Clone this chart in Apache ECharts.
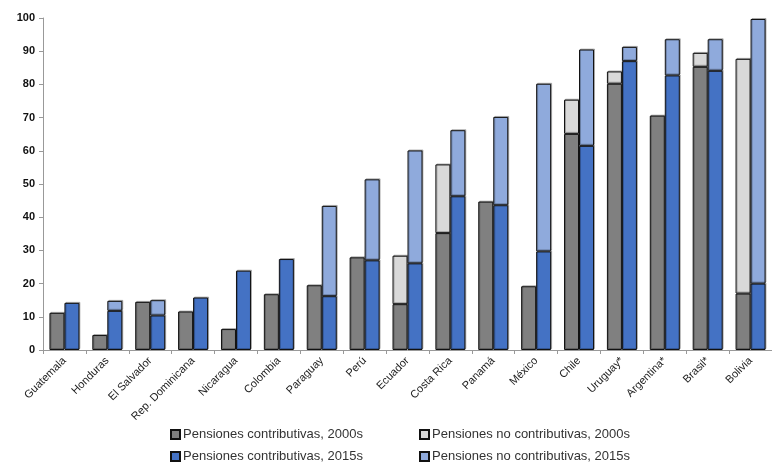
<!DOCTYPE html>
<html>
<head>
<meta charset="utf-8">
<script src="https://cdn.jsdelivr.net/npm/echarts@6/dist/echarts.min.js"></script>
<style>html,body{margin:0;padding:0;background:#fff}#c{width:772px;height:462px}</style>
</head>
<body>
<div id="c"></div>
<script>
const categories = ["Guatemala","Honduras","El Salvador","Rep. Dominicana","Nicaragua","Colombia","Paraguay","Perú","Ecuador","Costa Rica","Panamá","México","Chile","Uruguay*","Argentina*","Brasil*","Bolivia"];
const contrib2000s   = [11.2, 4.5, 14.5, 11.6, 6.3, 16.8, 19.5, 27.9, 13.8, 35.2, 44.7, 19.2, 65.1, 80.2, 70.6, 85.3, 17.0];
const noContrib2000s = ['-', '-', '-', '-', '-', '-', '-', '-', 14.6, 20.7, '-', '-', 10.3, 3.7, '-', 4.2, 70.7];
const contrib2015s   = [14.2, 11.8, 10.4, 15.8, 23.9, 27.4, 16.2, 27.0, 26.1, 46.3, 43.6, 29.7, 61.5, 87.0, 82.7, 84.1, 20.0];
const noContrib2015s = ['-', 3.0, 4.6, '-', '-', '-', 27.2, 24.4, 34.0, 19.9, 26.6, 50.5, 29.0, 4.3, 10.9, 9.5, 79.7];
const yTicks = [0,10,20,30,40,50,60,70,80,90,100];

const names = ["Pensiones contributivas, 2000s","Pensiones no contributivas, 2000s","Pensiones contributivas, 2015s","Pensiones no contributivas, 2015s"];
const colors = ["#808080","#d9d9d9","#4472c4","#8faadc"];
const datas = [contrib2000s, noContrib2000s, contrib2015s, noContrib2015s];
const stacks = ["a","a","b","b"];

const chart = echarts.init(document.getElementById('c'), null, {renderer:'canvas'});
const legendPos = [[170,428],[419,428],[170,450],[419,450]];
const option = {
  animation:false,
  textStyle:{fontFamily:'Liberation Sans, Arial, sans-serif'},
  grid:{left:43, top:18, bottom:112, width:736, containLabel:false},
  legend: names.map((n,i)=>({
    data:[n], left:legendPos[i][0], top:legendPos[i][1], padding:0,
    itemWidth:9, itemHeight:9, itemGap:4,
    icon:'rect',
    textStyle:{fontSize:13, color:'#333', fontFamily:'Liberation Sans, Arial, sans-serif', padding:[0,0,0,-2]}
  })),
  xAxis:{
    type:'category', data:categories,
    axisLine:{lineStyle:{color:'#999'}},
    axisTick:{show:true, length:4, lineStyle:{color:'#999'}},
    axisLabel:{rotate:45, interval:0, fontSize:11, color:'#222', margin:9}
  },
  yAxis:{
    type:'value', min:yTicks[0], max:yTicks[yTicks.length-1], interval:10,
    axisLine:{show:true, lineStyle:{color:'#999'}},
    axisTick:{show:true, length:4, lineStyle:{color:'#999'}},
    splitLine:{show:false},
    axisLabel:{fontSize:11, fontWeight:'bold', color:'#111', margin:8}
  },
  series: names.map((n,i)=>({
    name:n, type:'bar', stack:stacks[i], data:datas[i],
    barWidth:15, barGap:'0%',
    itemStyle:{color:colors[i], borderColor:'#111', borderWidth:1,
      shadowColor:'rgba(0,0,0,0.25)', shadowOffsetX:1, shadowOffsetY:-1, shadowBlur:0}
  }))
};
chart.setOption(option);
</script>
</body>
</html>
